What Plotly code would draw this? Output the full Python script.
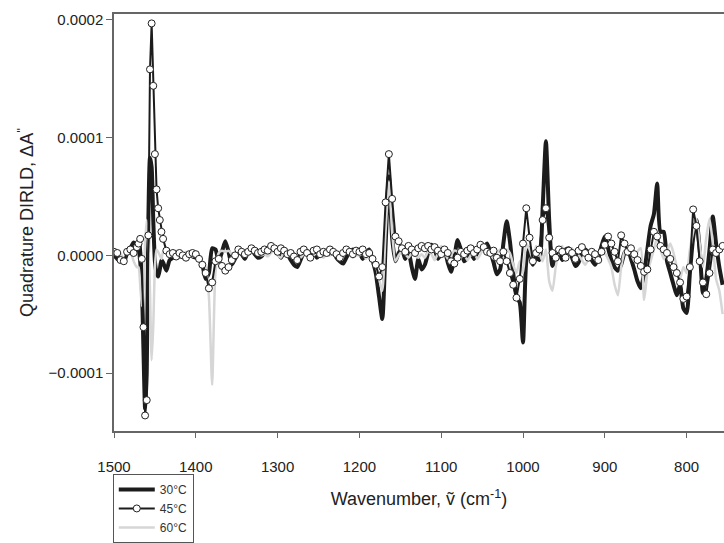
import plotly.graph_objects as go

# Wavenumber grid (cm-1): finer sampling around the 1456 band
wavenumber = (list(range(1500, 1470, -4)) + list(range(1470, 1440, -2))
              + list(range(1440, 754, -4)))

# Values in units of 1e-5 (Quadrature DIRLD, dA'')
t30 = [
    # 1500..1472
    0, -0.3, -0.5, -0.6, 0.2, 0.6, 1.1, 0.8,
    # 1470..1442 (step 2)
    0.6, -0.5, -2.5, -8, -13, -10, 3, 8.3, 7.5, 3, -0.5, -1.5, -1.8, -1.2, -0.4,
    # 1440..1404
    -0.6, -1.3, -0.4, -0.2, 0.1, -0.1, 0, -0.2, 0.1, -0.1,
    # 1400..1364
    -0.2, -0.3, -0.8, -2.0, -1.5, 0.6, 0.5, -0.5, 0.3, 1.2,
    # 1360..1324
    0.3, -0.8, -0.3, 0.2, 0.1, -0.3, 0.3, 0.5, 0.1, -0.2,
    # 1320..1284
    -0.1, 0.2, 0.3, 0.6, 0.7, 0.2, -0.2, 0.3, 0.1, -0.4,
    # 1280..1244
    -0.8, -1.0, -0.4, 0.2, 0.4, 0, 0.3, -0.2, 0.1, 0.3,
    # 1240..1204
    0.4, 0.1, 0.3, -0.2, -0.5, -0.7, -0.2, 0.3, 0.5, 0.2,
    # 1200..1164
    0.2, -0.3, 0.2, 0.5, -0.4, -1.5, -3.5, -5.4, 0.8, 6.7,
    # 1160..1124
    1.5, -0.5, 0.2, 0.5, -0.3, 0.3, -1.0, -2.0, -0.3, -1.2,
    # 1120..1084
    -0.8, 0.2, 0.9, 0.5, -0.3, 0.2, 0.4, -0.6, -1.4, -0.2,
    # 1080..1044
    1.3, 0.5, -0.5, -0.2, 0.3, -0.3, 0.2, 1.0, 0.6, 1.0,
    # 1040..1004
    0.3, -0.6, -1.6, -1.2, 1.0, 2.9, 1.2, -1.5, -3.5, -4.0,
    # 1000..964
    -7.4, -0.5, 0.6, -0.8, -0.2, -0.4, 4.0, 9.7, 3.0, -0.9,
    # 960..924
    -0.3, 0.2, -0.4, 0.5, 0.6, -0.2, -0.9, -0.6, 0.3, 0.5,
    # 920..884
    0.2, -0.4, -0.8, -0.2, 0.8, 1.6, 0.6, -0.4, -1.0, -1.3,
    # 880..844
    -0.8, 0.2, 0.5, -0.3, -1.2, -2.2, -2.8, -1.5, 0.5, 2.5,
    # 840..804
    3.5, 6.1, 2.0, 2.0, -0.5, -1.5, -2.5, -3.4, -2.5, -4.5,
    # 800..764
    -4.9, -1.5, 1.5, 3.0, 0.5, -3.2, -2.0, 0.5, 3.3, 1.0,
    # 760..756
    -1.0, -2.5,
]

t45 = [
    # 1500..1472
    0.3, 0.2, -0.4, -0.5, 0.3, 0.5, 0.2, 0.7,
    # 1470..1442
    1.0, 1.4, -0.3, -6.1, -13.6, -12.3, 1.7, 15.8, 19.7, 14.4, 8.6, 5.6, 4.0, 3.0, 2.0,
    # 1440..1404
    1.4, 0.4, 0.1, 0.2, -0.1, 0.2, 0, -0.2, 0.1, 0.2,
    # 1400..1364
    0.1, -0.3, -0.8, -1.5, -2.8, -2.3, -0.5, -0.3, -0.9, -1.3,
    # 1360..1324
    -1.0, -0.4, 0, 0.5, 0.3, 0.1, 0.3, 0.6, 0.4, 0.2,
    # 1320..1284
    0.3, 0.5, 0.4, 0.8, 0.6, 0.3, 0.6, 0.4, 0.1, 0.2,
    # 1280..1244
    -0.1, -0.4, 0.3, 0.5, 0.2, -0.2, 0.4, 0.5, 0.1, 0.3,
    # 1240..1204
    0.2, 0.5, 0.3, 0.1, -0.2, 0.2, 0.5, 0.3, 0.1, 0.4,
    # 1200..1164
    0.3, 0.5, 0.1, 0.2, -0.3, -0.8, -1.8, -1.0, 4.5, 8.6,
    # 1160..1124
    4.8, 1.6, 1.2, 0.6, 0.3, 0.8, 0.5, 0.2, 0.6, 0.8,
    # 1120..1084
    0.6, 0.8, 0.5, 0.7, 0.4, 0.1, 0.5, 0.2, -0.5, -0.7,
    # 1080..1044
    -0.2, 0.3, 0.1, 0.4, 0.6, 0.2, 0.5, 0.9, 0.7, 0.3,
    # 1040..1004
    0.2, 0.4, -0.2, -0.5, 0.3, -0.5, -1.5, -2.5, -3.6, -2.0,
    # 1000..964
    1.0, 4.0, 1.5, -0.5, 0.2, 0.5, 3.0, 4.0, 1.5, 0.2,
    # 960..924
    -0.2, 0.5, 0.3, -0.2, 0.4, 0.2, -0.3, 0.4, 0.7, 0.2,
    # 920..884
    -0.2, 0.3, 0.1, -0.4, 0.3, 0.9, 1.6, 1.0, 0.3, -0.5,
    # 880..844
    1.7, 1.0, 0.3, 0.6, 0.1, -0.4, -0.9, -1.4, -1.2, 0.5,
    # 840..804
    2.0, 1.6, 0.8, 0.5, 0.2, -0.3, -1.0, -1.5, -2.3, -3.7,
    # 800..764
    -3.5, -1.0, 3.9, 2.5, -0.5, -2.3, -3.3, -1.5, 0.5, 0.2,
    # 760..756
    0.5, 0.8,
]

t60 = [
    # 1500..1472
    0, 0.3, 0.1, -0.2, 0.2, 0.4, -0.5, -1.0,
    # 1470..1442
    -1.0, -2.5, -4.3, -3.0, 1.0, 3.0, 1.0, -3.0, -8.9, -6.0, -1.0, 0.5, 0.3, 0, -0.3,
    # 1440..1404
    0.3, 0.5, 0.3, 0.1, 0.4, 0.2, 0, 0.3, 0.1, -0.1,
    # 1400..1364
    0.2, 0, -0.5, -1.0, -3.5, -11.0, -1.5, 0.2, 0.4, 0.3,
    # 1360..1324
    0.4, 0.1, -0.1, 0.3, 0.5, 0.2, 0, 0.3, 0.4, 0.1,
    # 1320..1284
    0, 0.1, -0.1, 0.2, 0.4, 0, -0.2, 0.3, 0.2, -0.1,
    # 1280..1244
    0.2, 0, -0.2, 0.1, 0.3, -0.1, 0, 0.2, 0.1, -0.2,
    # 1240..1204
    0.1, 0, 0.3, 0.2, -0.1, 0, 0.2, 0.1, -0.2, 0,
    # 1200..1164
    0, 0.2, -0.3, 0.1, -0.2, -0.8, -2.0, -3.0, 2.0, 6.3,
    # 1160..1124
    2.0, -0.5, 0, 0.3, 0.1, -0.2, 0.2, 0, -0.2, 0.1,
    # 1120..1084
    -0.2, 0.3, 0.1, -0.4, 0.2, 0.8, 0.3, -0.3, 0, 0.4,
    # 1080..1044
    0.3, -0.2, 0.1, -0.4, 0, 0.3, -0.3, 0.1, 0.6, 0.2,
    # 1040..1004
    0.1, -0.3, 0.2, 0.5, -0.2, 0.5, 0.2, -0.8, -1.5, -0.5,
    # 1000..964
    -1.5, 1.0, 0.5, -0.3, 0.8, 0.2, -0.5, 0.5, -2.2, -3.0,
    # 960..924
    -1.0, 0.3, 0.8, -0.3, 0.2, 0.6, -0.5, 0, -0.4, -0.8,
    # 920..884
    -0.3, 0.4, 0.2, -0.2, 0.5, 0.2, -0.3, -1.0, -2.5, -3.4,
    # 880..844
    -1.0, 0.3, 0.8, 0.2, -0.5, 0.3, 0.6, -3.8, -1.5, -0.5,
    # 840..804
    0.5, 1.5, 0.5, -0.3, 0.3, 1.0, 0.2, -1.0, -2.0, -1.0,
    # 800..764
    -1.5, 0.5, 2.0, 3.1, 1.0, -1.0, 1.5, 3.1, 1.0, -2.0,
    # 760..756
    -3.0, -5.0,
]

assert len(t30) == len(wavenumber) == len(t45) == len(t60), (len(wavenumber), len(t30), len(t45), len(t60))

SCALE = 1e-5
y30 = [v * SCALE for v in t30]
y45 = [v * SCALE for v in t45]
y60 = [v * SCALE for v in t60]

x_ticks = [1500, 1400, 1300, 1200, 1100, 1000, 900, 800]
y_ticks = [-0.0001, 0.0, 0.0001, 0.0002]

FONT = "Liberation Sans, Arial, Helvetica, sans-serif"

fig = go.Figure()
fig.add_trace(go.Scatter(x=wavenumber, y=y30, name="30°C", mode="lines",
                         line=dict(color="#1c1c1c", width=4, shape="spline", smoothing=0.6),
                         legendrank=1))
fig.add_trace(go.Scatter(x=wavenumber, y=y60, name="60°C", mode="lines",
                         line=dict(color="#d6d6d6", width=2.5, shape="spline", smoothing=0.6),
                         legendrank=3))
fig.add_trace(go.Scatter(x=wavenumber, y=y45, name="45°C", mode="lines+markers",
                         line=dict(color="#1c1c1c", width=2),
                         marker=dict(symbol="circle", size=7, color="white",
                                     line=dict(color="#222", width=1)),
                         legendrank=2))

fig.update_layout(
    width=724, height=543,
    margin=dict(l=114, r=0, t=14, b=104),
    paper_bgcolor="white", plot_bgcolor="white",
    font=dict(family=FONT, size=15, color="#222"),
    showlegend=True,
    legend=dict(x=-0.002, y=-0.103, xanchor="left", yanchor="top",
                bordercolor="#555", borderwidth=1, bgcolor="white",
                font=dict(size=12, family=FONT, color="#333"),
                tracegroupgap=0, itemwidth=36),
    xaxis=dict(range=[1500, 754.3], tickvals=x_ticks, ticktext=[str(t) for t in x_ticks],
               showgrid=False, zeroline=False, showline=True, linecolor="#666", linewidth=1.5,
               mirror=True, ticks="outside", ticklen=5, tickcolor="#666",
               ticklabelstandoff=16,
               title=dict(text="Wavenumber, ṽ (cm<sup>-1</sup>)", font=dict(size=18),
                          standoff=19)),
    yaxis=dict(range=[-0.0001492, 0.000205], tickvals=y_ticks, tickformat=".4f",
               showgrid=False, zeroline=False, showline=True, linecolor="#666", linewidth=1.5,
               ticks="outside", ticklen=6, tickcolor="#666",
               title=dict(text="Quadrature DIRLD, ΔA<sup>''</sup>", font=dict(size=18),
                          standoff=10)),
)

fig.write_html("out.html")
